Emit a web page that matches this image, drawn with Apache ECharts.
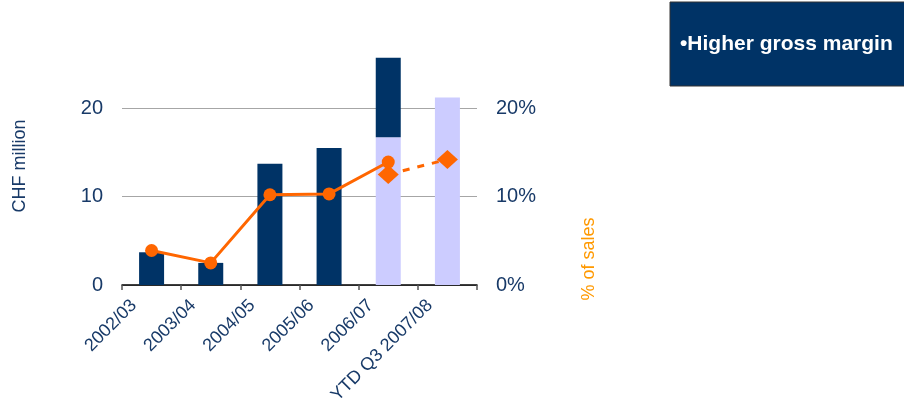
<!DOCTYPE html>
<html>
<head>
<meta charset="utf-8">
<script src="https://cdn.jsdelivr.net/npm/echarts@6/dist/echarts.min.js"></script>
<style>
html,body{margin:0;padding:0;background:#fff;}
#chart{width:904px;height:401px;}
</style>
</head>
<body>
<div id="chart"></div>
<script>
// ---- data ----
const categories = ['2002/03', '2003/04', '2004/05', '2005/06', '2006/07', 'YTD Q3 2007/08'];
// CHF million, light (lower) segment
const lightBars = [0, 0, 0, 0, 16.7, 21.2];
// CHF million, dark (upper) segment
const darkBars = [3.7, 2.5, 13.7, 15.5, 9.0, 0];
// % of sales (solid line, circles)
const marginPct = [3.9, 2.5, 10.2, 10.3, 13.9, null];
// % of sales (dashed line, diamonds)
const marginPctYtd = [null, null, null, null, 12.5, 14.2];
const leftTicks = [0, 10, 20];
const boxText = '\u2022Higher gross margin';

const navy = '#003366';
const lavender = '#CCCCFF';
const orange = '#FF6600';
const textCol = '#183A68';
const font = 'Liberation Sans, Arial, sans-serif';

const chart = echarts.init(document.getElementById('chart'));
chart.setOption({
  animation: false,
  backgroundColor: '#ffffff',
  grid: { left: 122, right: 427, top: 55, bottom: 116, containLabel: false, outerBoundsMode: 'none' },
  xAxis: {
    type: 'category',
    data: categories,
    boundaryGap: true,
    axisLine: { show: true, lineStyle: { color: '#000', width: 1.5 } },
    axisTick: { show: true, length: 5, lineStyle: { color: '#555', width: 1.5 } },
    axisLabel: {
      rotate: 45, interval: 0, margin: 0,
      padding: [0, 25, 0, 0],
      color: textCol, fontSize: 18, fontFamily: font
    }
  },
  yAxis: [
    {
      type: 'value', min: leftTicks[0], max: 26, interval: 10,
      axisLine: { show: false }, axisTick: { show: false },
      axisLabel: { margin: 19, color: textCol, fontSize: 20, fontFamily: font, showMaxLabel: false },
      splitLine: { show: true, showMaxLine: false, lineStyle: { color: '#A6A6A6', width: 1 } }
    },
    {
      type: 'value', min: 0, max: 26, interval: 10,
      axisLine: { show: false }, axisTick: { show: false },
      axisLabel: { margin: 19, color: textCol, fontSize: 20, fontFamily: font, showMaxLabel: false, formatter: '{value}%' },
      splitLine: { show: false }
    }
  ],
  series: [
    {
      type: 'bar', stack: 'a', data: lightBars, barWidth: 25,
      itemStyle: { color: lavender }, silent: true
    },
    {
      type: 'bar', stack: 'a', data: darkBars, barWidth: 25,
      itemStyle: { color: navy }, silent: true
    },
    {
      type: 'line', yAxisIndex: 1, data: marginPctYtd,
      symbol: 'diamond', symbolSize: [21, 19], showAllSymbol: true,
      lineStyle: { color: orange, width: 3, type: [7, 8] },
      itemStyle: { color: orange }, z: 3
    },
    {
      type: 'line', yAxisIndex: 1, data: marginPct,
      symbol: 'circle', symbolSize: 13, showAllSymbol: true,
      lineStyle: { color: orange, width: 3 },
      itemStyle: { color: orange }, z: 4
    }
  ],
  graphic: [
    {
      type: 'text', x: 20, y: 166, rotation: Math.PI / 2,
      style: { text: 'CHF million', fill: textCol, fontSize: 18, fontFamily: font, align: 'center', verticalAlign: 'middle' }
    },
    {
      type: 'text', x: 589, y: 259, rotation: Math.PI / 2,
      style: { text: '% of sales', fill: '#FF9900', fontSize: 18, fontFamily: font, align: 'center', verticalAlign: 'middle' }
    },
    {
      type: 'rect', shape: { x: 670, y: 2, width: 240, height: 84 },
      style: { fill: navy, stroke: '#333', lineWidth: 1 }
    },
    {
      type: 'text', x: 680, y: 44,
      style: { text: boxText, fill: '#fff', fontSize: 21, fontWeight: 'bold', fontFamily: font, align: 'left', verticalAlign: 'middle' }
    }
  ]
});
</script>
</body>
</html>
